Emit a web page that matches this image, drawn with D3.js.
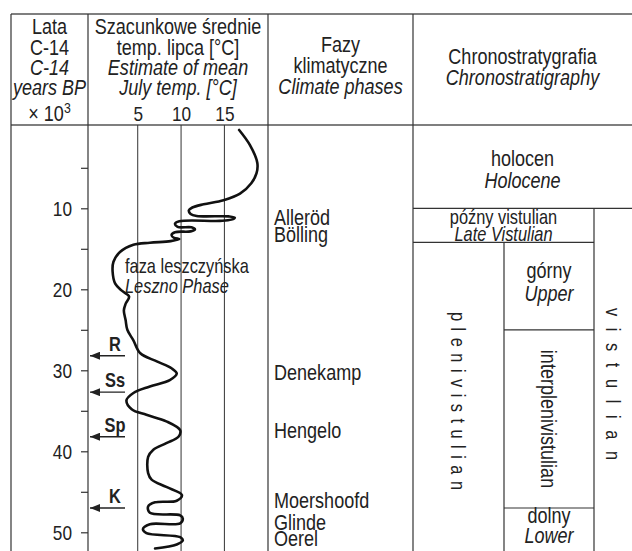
<!DOCTYPE html>
<html><head><meta charset="utf-8">
<script src="https://cdn.jsdelivr.net/npm/d3@7"></script>
<style>
html,body{margin:0;padding:0;background:#fff;}
svg text{font-family:"Liberation Sans",Arial,sans-serif;fill:#222;}
</style></head><body>
<svg id="c" width="632" height="551"></svg>
<script>
// ---- data ----
const curveAges  = [0.33,2.2,4.4,5.7,6.9,8.2,9.0,9.5,9.9,10.25,10.7,10.95,11.0,11.15,11.4,11.55,11.6,11.9,12.3,12.35,12.6,12.85,12.95,13.3,13.65,13.8,14.05,14.25,14.5,15.4,16.6,17.8,19.3,20.2,20.9,21.8,22.6,23.8,25.0,26.3,27.9,28.9,29.75,30.4,31.2,32.0,32.8,33.7,34.8,35.5,36.3,37.4,38.2,39.0,39.8,40.7,42.7,43.5,44.4,45.4,46.1,46.3,46.8,47.6,47.9,48.3,48.9,49.0,49.6,50.1,50.6,51.0,51.5,52.0];
const curveTemps = [16.7,17.95,18.8,18.7,18.1,16.8,14.9,12.6,11.3,10.9,11.1,11.8,15.5,16.2,15.8,14.5,9.8,9.3,9.6,11.2,11.6,11.1,9.3,8.9,9.2,9.8,8.8,6.4,4.5,2.95,2.2,2.1,2.4,3.2,4.0,3.6,3.4,3.6,3.8,4.5,5.3,7.2,8.9,9.5,8.7,6.4,4.5,3.7,4.3,6.0,8.3,9.9,9.7,8.3,6.8,6.2,6.2,6.6,8.3,10.1,9.5,7.0,6.2,6.4,9.9,10.2,9.9,6.4,5.6,6.0,9.9,10.2,9.5,7.0];
const ageTicks = [5,10,15,20,25,30,35,40,45,50];
const tempTicks = [5,10,15];
const arrowLabels = ["R","Ss","Sp","K"];
const arrowAges = [28.2,32.7,38.2,47.0];
const phaseNames = ["Alleröd","Bölling","Denekamp","Hengelo","Moershoofd","Glinde","Oerel"];
const phaseAges = [12.05,14.2,31.2,38.3,47.0,49.7,51.7];
const holoceneEnd = 10, lateVistEnd = 14.2, upperEnd = 25, interEnd = 47;

// ---- layout ----
const SX = 0.82; // narrow (condensed) look
const svg = d3.select("#c");
const W = 632, H = 551;
const colX = [11, 88, 268, 413, 504, 594];
const topY = 14, headY = 125;
const y = d3.scaleLinear().domain([0,50]).range([127.3,532.3]);
const x = d3.scaleLinear().domain([0,15]).range([94.4,224.4]);
const lineCol = "#333";

const g = svg.append("g");
g.append("line").attr("x1",colX[0]).attr("x2",W).attr("y1",topY).attr("y2",topY).attr("stroke","#555").attr("stroke-width",1.5);
g.append("line").attr("x1",colX[0]).attr("x2",W).attr("y1",headY).attr("y2",headY).attr("stroke","#555").attr("stroke-width",1.5);
[colX[0],colX[1],colX[2],colX[3]].forEach(cx=>{
  g.append("line").attr("x1",cx).attr("x2",cx).attr("y1",topY).attr("y2",H).attr("stroke",lineCol).attr("stroke-width",1.2);
});
g.selectAll(".grid").data(tempTicks).join("line")
  .attr("x1",d=>x(d)).attr("x2",d=>x(d)).attr("y1",headY).attr("y2",H)
  .attr("stroke",lineCol).attr("stroke-width",1);

function narrow(sel){
  sel.each(function(){
    const t=d3.select(this);
    const tx=+t.attr("x")||0, ty=+t.attr("y")||0;
    t.attr("x",0).attr("y",0).attr("transform",`translate(${tx},${ty}) scale(${SX},1)`);
  });
}
const xa = g.append("g").attr("transform",`translate(0,${headY})`)
  .call(d3.axisTop(x).tickValues(tempTicks).tickSize(0).tickPadding(4));
xa.select(".domain").remove();
xa.selectAll("text").attr("font-size",21).attr("font-family",null).attr("fill","#222").call(narrow);

const ya = g.append("g").attr("transform",`translate(${colX[1]},0)`)
  .call(d3.axisLeft(y).tickValues(ageTicks).tickSize(7).tickPadding(9).tickFormat(d=>d%10===0?d:""));
ya.select(".domain").remove();
ya.selectAll("line").attr("stroke",lineCol).attr("stroke-width",1.2);
ya.selectAll("text").attr("font-size",21).attr("font-family",null).attr("fill","#222").call(narrow);

const hl = (x1,x2,a)=>g.append("line").attr("x1",x1).attr("x2",x2).attr("y1",y(a)).attr("y2",y(a)).attr("stroke",lineCol).attr("stroke-width",1.2);
const vl = (xx,a1,y2)=>g.append("line").attr("x1",xx).attr("x2",xx).attr("y1",y(a1)).attr("y2",y2).attr("stroke",lineCol).attr("stroke-width",1.2);
hl(colX[3],W,holoceneEnd);
hl(colX[3],colX[5],lateVistEnd);
vl(colX[5],holoceneEnd,H);
vl(colX[4],lateVistEnd,H);
hl(colX[4],colX[5],upperEnd);
hl(colX[4],colX[5],interEnd);

const line = d3.line().x((d,i)=>x(curveTemps[i])).y(d=>y(d)).curve(d3.curveCatmullRom.alpha(0.5));
g.append("path").datum(curveAges).attr("d",line).attr("fill","none").attr("stroke","#111").attr("stroke-width",2.6).attr("stroke-linejoin","round").attr("stroke-linecap","round");

const defs = svg.append("defs");
defs.append("marker").attr("id","ah").attr("viewBox","0 0 10 8").attr("refX",10).attr("refY",4)
  .attr("markerWidth",10).attr("markerHeight",8).attr("markerUnits","userSpaceOnUse").attr("orient","auto")
  .append("path").attr("d","M0,0 L10,4 L0,8 Z").attr("fill","#222");

function txt(xx,yy,s,opts={}){
  const t=g.append("text").attr("transform",`translate(${xx},${yy}) scale(${SX},1)`)
    .attr("font-size",opts.size||22).attr("text-anchor",opts.anchor||"middle").text(s);
  if(opts.italic) t.attr("font-style","italic");
  if(opts.bold) t.attr("font-weight","bold");
  return t;
}
arrowAges.forEach((a,i)=>{
  g.append("line").attr("x1",125).attr("x2",90).attr("y1",y(a)).attr("y2",y(a)).attr("stroke","#222").attr("stroke-width",1.4).attr("marker-end","url(#ah)");
  txt(115,y(a)-5,arrowLabels[i],{size:20,bold:true});
});

const c1=(colX[0]+colX[1])/2, c2=(colX[1]+colX[2])/2, c3=(colX[2]+colX[3])/2, c4=(colX[3]+W)/2;
txt(c1,34,"Lata"); txt(c1,55,"C-14"); txt(c1,75,"C-14",{italic:true}); txt(c1,95,"years BP",{italic:true});
const t10=txt(c1,121,"× 10"); t10.append("tspan").attr("font-size",15).attr("dy",-8).text("3");
txt(c2,34,"Szacunkowe średnie"); txt(c2,55,"temp. lipca [°C]");
txt(c2,75,"Estimate of mean",{italic:true}); txt(c2,95,"July temp. [°C]",{italic:true});
txt(c3,52,"Fazy"); txt(c3,73,"klimatyczne"); txt(c3,94,"Climate phases",{italic:true});
txt(c4,64,"Chronostratygrafia"); txt(c4,85,"Chronostratigraphy",{italic:true});

phaseNames.forEach((n,i)=>txt(274,y(phaseAges[i]),n,{anchor:"start"}));

txt(125,272.5,"faza leszczyńska",{anchor:"start",size:20});
txt(125,293,"Leszno Phase",{anchor:"start",size:20,italic:true});

txt(c4,166,"holocen"); txt(c4,188,"Holocene",{italic:true});
const c45=(colX[3]+colX[5])/2, c5=(colX[4]+colX[5])/2;
txt(c45,224,"późny vistulian",{size:20}); txt(c45,240.5,"Late Vistulian",{size:20,italic:true});
txt(c5,278,"górny"); txt(c5,301,"Upper",{italic:true});
txt(c5,523,"dolny"); txt(c5,543,"Lower",{italic:true});

// rotated texts: spread letters to span a given length
function vtxt(cx,cy,s,span,size,spread){
  const t=g.append("text").attr("transform",`translate(${cx},${cy}) rotate(90) scale(${SX},1)`)
    .attr("text-anchor","middle").attr("dy","0.35em").attr("font-size",size).text(s);
  if(spread){
    const L=t.node().getComputedTextLength();
    const ls=(span/SX - L)/(s.length-1);
    t.attr("letter-spacing",ls).attr("dx",ls/2);
  }
}
vtxt((colX[3]+colX[4])/2,401,"plenivistulian",178,20,true);
vtxt((colX[5]+W)/2,384,"vistulian",152,20,true);
vtxt(c5,419,"interplenivistulian",148,22,false);
</script>
</body></html>
